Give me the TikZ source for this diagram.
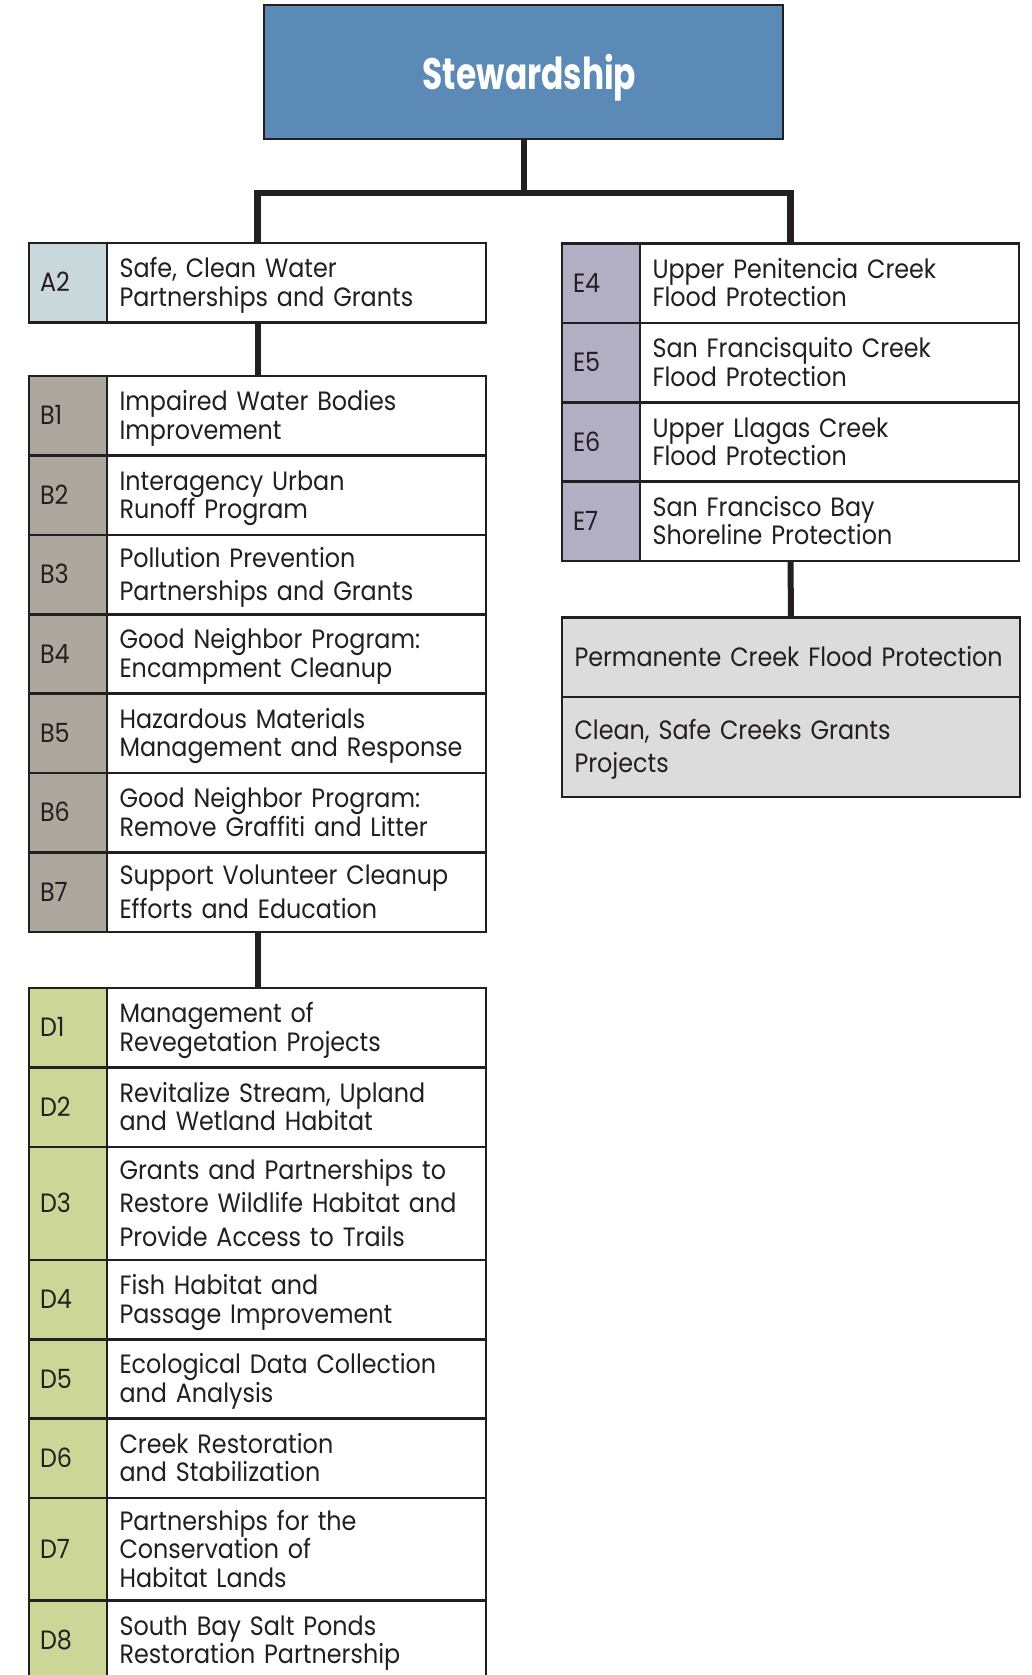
\documentclass[tikz,border=0pt]{standalone}
\usepackage{fontspec}
\setmainfont{Poppins}[FakeStretch=0.9]
\usepackage{tikz}
\usetikzlibrary{positioning,calc}

\definecolor{inkc}{HTML}{231F20}
\definecolor{titlec}{HTML}{5B8AB6}
\definecolor{ac}{HTML}{C9D8DB}
\definecolor{bc}{HTML}{ADA89E}
\definecolor{dc}{HTML}{CCD696}
\definecolor{ec}{HTML}{B2AEC3}
\definecolor{gc}{HTML}{DCDCDC}

% keep every row's text block the same height and depth
\newcommand\topstrut{\rule{0pt}{26pt}}
\newcommand\botstrut{\rule[-7.5pt]{0pt}{7.5pt}}

\begin{document}
\begin{tikzpicture}[x=1pt, y=1pt,
  node distance=0pt,
  code/.style={draw=inkc, line width=2.6pt, fill=#1, minimum width=78pt, minimum height=79.4pt,
    inner xsep=11pt, inner ysep=0pt, outer sep=0pt, text width=56pt, align=left,
    font=\fontsize{26.5}{28.5}\selectfont, text=inkc,
    execute at begin node=\topstrut, execute at end node=\botstrut},
  item/.style={draw=inkc, line width=2.6pt, fill=white, minimum width=379pt, minimum height=79.4pt,
    inner xsep=12.5pt, inner ysep=0pt, outer sep=0pt, text width=354pt, align=left,
    font=\fontsize{26.5}{28.5}\selectfont, text=inkc,
    execute at begin node=\topstrut, execute at end node=\botstrut},
  wide/.style={item, fill=gc, minimum width=458pt, text width=433pt},
  link/.style={draw=inkc, line width=6pt}
]
\useasboundingbox (0,0) rectangle (1032,-1675);
\clip (0,0) rectangle (1032,-1675);

\node[draw=inkc, line width=2.6pt, fill=titlec, minimum width=519pt, minimum height=134pt,
  outer sep=0pt, text=white, font=\fontsize{44}{50}\selectfont\bfseries] (title) at (523.5,-72)
  {\hspace*{12pt}\rule[-12pt]{0pt}{60pt}\scalebox{0.83}[1]{Stewardship}};

% left column
\node[code=ac, anchor=north west] (a2c) at (29,-243) {A2};
\node[item, right=of a2c] (a2) {Safe, Clean Water\\Partnerships and Grants};

\node[code=bc, anchor=north west] (b1c) at (29,-376) {B1};
\node[item, right=of b1c] (b1) {Impaired Water Bodies\\Improvement};
\node[code=bc, below=of b1c] (b2c) {B2};
\node[item, right=of b2c] (b2) {Interagency Urban\\Runoff Program};
\node[code=bc, below=of b2c] (b3c) {B3};
\node[item, right=of b3c] (b3) {Pollution Prevention\\[5pt]Partnerships and Grants};
\node[code=bc, below=of b3c] (b4c) {B4};
\node[item, right=of b4c] (b4) {Good Neighbor Program:\\Encampment Cleanup};
\node[code=bc, below=of b4c] (b5c) {B5};
\node[item, right=of b5c] (b5) {Hazardous Materials\\Management and Response};
\node[code=bc, below=of b5c] (b6c) {B6};
\node[item, right=of b6c] (b6) {Good Neighbor Program:\\Remove Graffiti and Litter};
\node[code=bc, below=of b6c] (b7c) {B7};
\node[item, right=of b7c] (b7) {Support Volunteer Cleanup\\[5pt]Efforts and Education};

\node[code=dc, anchor=north west] (d1c) at (29,-988) {D1};
\node[item, right=of d1c] (d1) {Management of\\Revegetation Projects};
\node[code=dc, below=of d1c] (d2c) {D2};
\node[item, right=of d2c] (d2) {Revitalize Stream, Upland\\and Wetland Habitat};
\node[code=dc, below=of d2c, minimum height=113pt] (d3c) {D3};
\node[item, right=of d3c, minimum height=113pt] (d3) {Grants and Partnerships to\\[5pt]Restore Wildlife Habitat and\\[5pt]Provide Access to Trails};
\node[code=dc, below=of d3c] (d4c) {D4};
\node[item, right=of d4c] (d4) {Fish Habitat and\\Passage Improvement};
\node[code=dc, below=of d4c] (d5c) {D5};
\node[item, right=of d5c] (d5) {Ecological Data Collection\\and Analysis};
\node[code=dc, below=of d5c] (d6c) {D6};
\node[item, right=of d6c] (d6) {Creek Restoration\\and Stabilization};
\node[code=dc, below=of d6c, minimum height=102.5pt] (d7c) {D7};
\node[item, right=of d7c, minimum height=102.5pt] (d7) {Partnerships for the\\Conservation of\\Habitat Lands};
\node[code=dc, below=of d7c] (d8c) {D8};
\node[item, right=of d8c] (d8) {South Bay Salt Ponds\\Restoration Partnership};

% right column
\node[code=ec, anchor=north west] (e4c) at (562,-243.5) {E4};
\node[item, right=of e4c] (e4) {Upper Penitencia Creek\\Flood Protection};
\node[code=ec, below=of e4c] (e5c) {E5};
\node[item, right=of e5c] (e5) {San Francisquito Creek\\Flood Protection};
\node[code=ec, below=of e5c] (e6c) {E6};
\node[item, right=of e6c] (e6) {Upper Llagas Creek\\Flood Protection};
\node[code=ec, below=of e6c] (e7c) {E7};
\node[item, right=of e7c] (e7) {San Francisco Bay\\Shoreline Protection};

\node[wide, anchor=north west] (perm) at (562,-617.5) {Permanente Creek Flood Protection};
\node[wide, below=of perm, minimum height=100pt] (csc) {Clean, Safe Creeks Grants\\[5pt]Projects};

% connectors
\coordinate (fork) at (title.south |- 0,-193);
\coordinate (a2top) at ($(a2c.north west)!.5!(a2.north east)$);
\coordinate (a2bot) at ($(a2c.south west)!.5!(a2.south east)$);
\coordinate (b1top) at ($(b1c.north west)!.5!(b1.north east)$);
\coordinate (b7bot) at ($(b7c.south west)!.5!(b7.south east)$);
\coordinate (d1top) at ($(d1c.north west)!.5!(d1.north east)$);
\coordinate (e4top) at ($(e4c.north west)!.5!(e4.north east)$);
\coordinate (e7bot) at ($(e7c.south west)!.5!(e7.south east)$);

\draw[link] (title.south) -- (fork);
\draw[link, line width=6.5pt] (a2top) |- (fork) -| (e4top);
\draw[link] (a2bot) -- (b1top);
\draw[link] (b7bot) -- (d1top);
\draw[link] (e7bot) -- (perm.north);
\end{tikzpicture}
\end{document}
